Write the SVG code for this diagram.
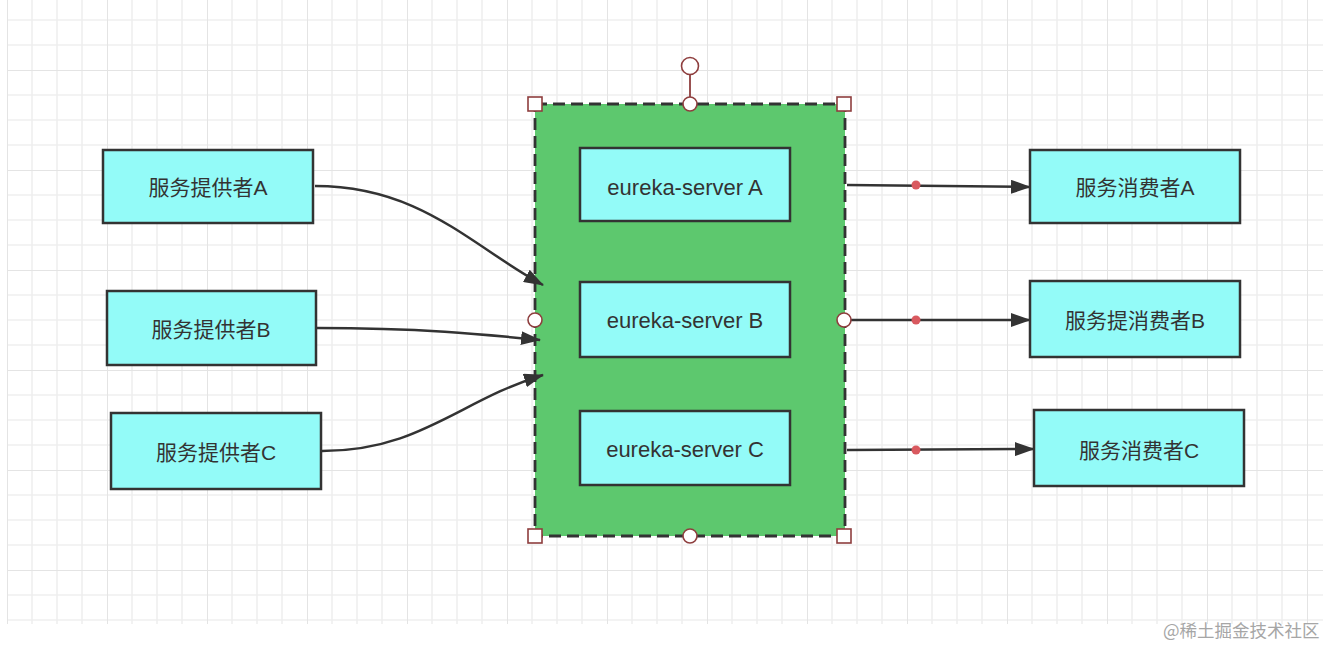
<svg xmlns="http://www.w3.org/2000/svg" width="1330" height="646" viewBox="0 0 1330 646">
  <style>
    .box { fill: #93FBF8; stroke: #333333; stroke-width: 2.5; }
    .lbl { font-family: "Liberation Sans", "Noto Sans CJK SC", sans-serif; font-size: 21px; fill: #333333; text-anchor: middle; dominant-baseline: central; }
    .eu { font-size: 22px; }
    .conn { fill: none; stroke: #333333; stroke-width: 2.5; }
    .dot { fill: #D9595F; }
    .hnd { fill: #ffffff; stroke: #8E3E3E; stroke-width: 1.6; }
    .mk { font-family: "Noto Sans CJK SC", sans-serif; font-size: 17.5px; fill: #a6a6a6; }
  </style>
  <defs>
    <pattern id="grid" x="7" y="-30" width="100" height="100" patternUnits="userSpaceOnUse">
      <path d="M25 0V100M50 0V100M75 0V100M0 25H100M0 50H100M0 75H100" stroke="#efefef" stroke-width="1.6" fill="none"/>
      <path d="M0 0V100M0 0H100" stroke="#e4e4e4" stroke-width="2" fill="none"/>
    </pattern>
    <marker id="arr" viewBox="0 0 20 14" refX="19" refY="7" markerWidth="20" markerHeight="14" markerUnits="userSpaceOnUse" orient="auto">
      <path d="M0 0L20 7L0 14Z" fill="#333333"/>
    </marker>
  </defs>
  <rect width="1330" height="646" fill="#ffffff"/>
  <rect x="7" y="0" width="1316" height="624" fill="url(#grid)"/>

  <g id="container">
    <rect x="535" y="104" width="310" height="432" fill="#5DC86E" stroke="#333333" stroke-width="2.8" stroke-dasharray="12 6"/>
  </g>

  <g id="connectors">
    <path class="conn" d="M315 186 C 420 186 470 245 543 285" marker-end="url(#arr)"/>
    <path class="conn" d="M317 328 C 420 328 480 334 540 340" marker-end="url(#arr)"/>
    <path class="conn" d="M322 451 C 420 451 460 400 543 375" marker-end="url(#arr)"/>
    <path class="conn" d="M847 185 L1030 187" marker-end="url(#arr)"/>
    <path class="conn" d="M845 320 L1030 320" marker-end="url(#arr)"/>
    <path class="conn" d="M847 450 L1034 449" marker-end="url(#arr)"/>
    <circle class="dot" cx="916" cy="185" r="4.5"/>
    <circle class="dot" cx="916" cy="320" r="4.5"/>
    <circle class="dot" cx="916" cy="450" r="4.5"/>
  </g>

  <g id="provider-a"><rect class="box" x="103" y="150" width="210" height="73"/><text class="lbl" x="208" y="187">服务提供者A</text></g>
  <g id="provider-b"><rect class="box" x="107" y="291" width="209" height="74"/><text class="lbl" x="211" y="329">服务提供者B</text></g>
  <g id="provider-c"><rect class="box" x="111" y="413" width="210" height="76"/><text class="lbl" x="216" y="452">服务提供者C</text></g>

  <g id="eureka-a"><rect class="box" x="580" y="148" width="210" height="73"/><text class="lbl eu" x="685" y="187">eureka-server A</text></g>
  <g id="eureka-b"><rect class="box" x="580" y="282" width="210" height="75"/><text class="lbl eu" x="685" y="320">eureka-server B</text></g>
  <g id="eureka-c"><rect class="box" x="580" y="411" width="210" height="74"/><text class="lbl eu" x="685" y="449">eureka-server C</text></g>

  <g id="consumer-a"><rect class="box" x="1030" y="150" width="210" height="73"/><text class="lbl" x="1135" y="187">服务消费者A</text></g>
  <g id="consumer-b"><rect class="box" x="1030" y="281" width="210" height="76"/><text class="lbl" x="1135" y="320">服务提消费者B</text></g>
  <g id="consumer-c"><rect class="box" x="1034" y="410" width="210" height="76"/><text class="lbl" x="1139" y="450">服务消费者C</text></g>

  <g id="handles">
    <line x1="690" y1="75" x2="690" y2="104" stroke="#8E3E3E" stroke-width="1.8"/>
    <circle class="hnd" cx="690" cy="66" r="8.5"/>
    <rect class="hnd" x="528" y="97" width="14" height="14"/>
    <rect class="hnd" x="837" y="97" width="14" height="14"/>
    <rect class="hnd" x="528" y="529" width="14" height="14"/>
    <rect class="hnd" x="837" y="529" width="14" height="14"/>
    <circle class="hnd" cx="690" cy="104" r="7"/>
    <circle class="hnd" cx="690" cy="536" r="7"/>
    <circle class="hnd" cx="535" cy="320" r="7"/>
    <circle class="hnd" cx="844" cy="320" r="7"/>
  </g>

  <text class="mk" x="1163" y="637">@稀土掘金技术社区</text>
</svg>
